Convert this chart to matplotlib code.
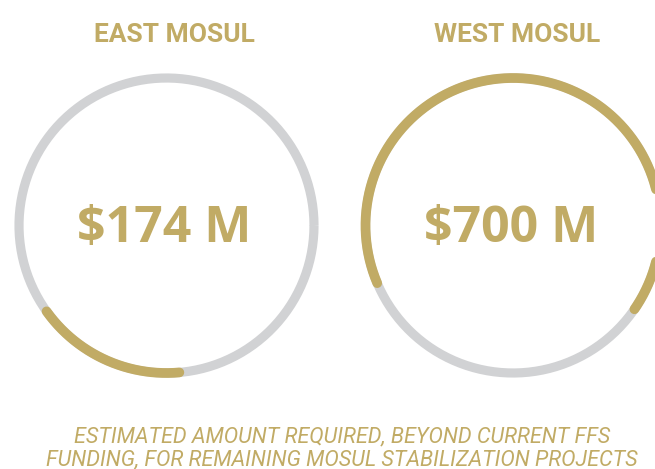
import numpy as np
import matplotlib
matplotlib.use("Agg")
import matplotlib.pyplot as plt

# data
regions = ["EAST MOSUL", "WEST MOSUL"]
amounts = ["$174 M", "$700 M"]
gold_share = [0.165, 0.66]          # share of ring drawn in gold
note = ["ESTIMATED AMOUNT REQUIRED, BEYOND CURRENT FFS",
        "FUNDING, FOR REMAINING MOSUL STABILIZATION PROJECTS"]

gold = "#C1AB65"
grey = "#D1D2D4"

# layout (pixels)
centers_x = [166.5, 513.0]
title_x = [174.5, 517.0]
center_y = 225.5
radius = 147.5
start_deg = [-85.0, 203.0]          # gold arc runs clockwise from here

fig = plt.figure(figsize=(6.55, 4.69), dpi=100)
ax = fig.add_axes([0, 0, 1, 1])
ax.set_xlim(0, 655)
ax.set_ylim(469, 0)
ax.set_aspect("equal")
ax.axis("off")

narrow = ["Roboto", "DejaVu Sans"]

for cx, tx, share, s0, name, amt in zip(centers_x, title_x, gold_share, start_deg, regions, amounts):
    t = np.linspace(0, 2 * np.pi, 400)
    ax.plot(cx + radius * np.cos(t), center_y - radius * np.sin(t),
            color=grey, lw=6.6, solid_capstyle="butt")
    a = np.radians(np.linspace(s0, s0 - 360 * share, 300))
    ax.plot(cx + radius * np.cos(a), center_y - radius * np.sin(a),
            color=gold, lw=7.0, solid_capstyle="round")
    ax.text(tx, 42, name, color=gold, fontsize=19, fontweight="bold",
            family=narrow, ha="center", va="baseline")
    ax.text(cx - 2, 242, amt, color=gold, fontsize=36, fontweight="bold",
            family=["Open Sans", "DejaVu Sans"], ha="center", va="baseline")

ax.text(342, 442, note[0], color=gold, fontsize=15.6, style="italic",
        family=narrow, ha="center", va="baseline")
ax.text(342, 465.5, note[1], color=gold, fontsize=15.6, style="italic",
        family=narrow, ha="center", va="baseline")

fig.savefig("out.png", dpi=100)
